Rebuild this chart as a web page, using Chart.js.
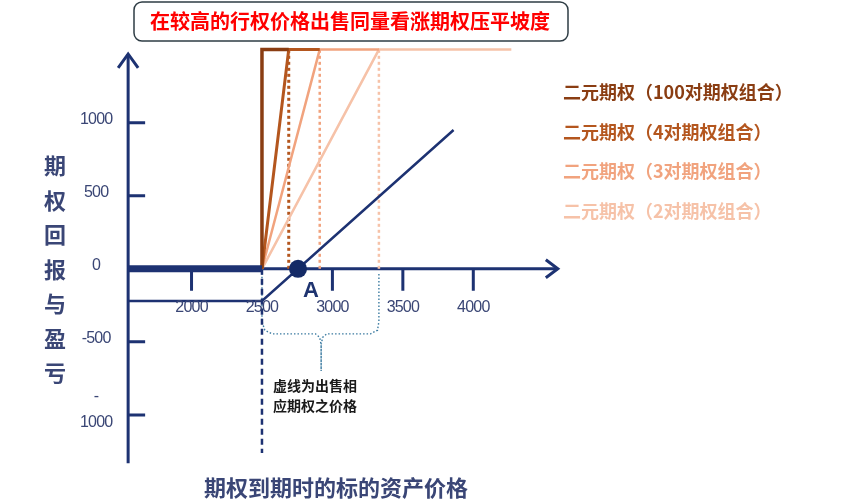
<!DOCTYPE html>
<html>
<head>
<meta charset="utf-8">
<script src="https://cdn.jsdelivr.net/npm/chart.js@4.4.1/dist/chart.umd.min.js"></script>
<style>
    html, body { margin: 0; padding: 0; background: #ffffff; }
    #wrap { width: 867px; height: 504px; position: relative; }
</style>
</head>
<body>
<div id="wrap"><canvas id="payoffChart" width="867" height="504"></canvas></div>
<script>
// axis ticks
const xTickValues = [2000, 2500, 3000, 3500, 4000];
const yTickValues = [1000, 500, 0, -500, -1000];
const yTickLabels = ["1000", "500", "0", "-500", "- 1000"];

// binary option payoffs (n pairs of call spreads)
const pair100X = [2500, 2500, 2690];
const pair100Y = [0, 1500, 1500];
const pair4X = [2500, 2690, 2910];
const pair4Y = [0, 1500, 1500];
const pair3X = [2500, 2910, 3330];
const pair3Y = [0, 1500, 1500];
const pair2X = [2500, 3330, 4270];
const pair2Y = [0, 1500, 1500];
const binaryBaseX = [1550, 2500];
const binaryBaseY = [0, 0];

// strikes of the calls that are sold
const soldStrikeX = [2690, 2910, 3330];
const soldStrikeTop = 1500;

// long call
const callX = [1550, 2500, 3860];
const callY = [-220, -220, 950];
const breakEvenX = [2756];
const breakEvenY = [0];

// brace under the axis
const braceX = [2500, 2500, 2520, 2570, 2880, 2910, 2920, 2920, 2920, 2930, 2960, 3270, 3320, 3330, 3330];
const braceY = [-30, -360, -420, -445, -445, -470, -520, -700, -520, -470, -445, -445, -420, -360, -30];
const strikeDashX = [2500, 2500];
const strikeDashY = [0, -1260];

const legendLabels = [
    "二元期权（100对期权组合）",
    "二元期权（4对期权组合）",
    "二元期权（3对期权组合）",
    "二元期权（2对期权组合）"
];
const seriesColors = ["#8a3d12", "#b4561e", "#f1a37e", "#f6c2a8"];

const NAVY = "#1d3272";
const LABEL = "#3e4a7a";

function toPoints(xs, ys) {
    return xs.map((x, i) => ({ x: x, y: ys[i] }));
}

function lineSet(xs, ys, color, width, order, dash) {
    return {
        data: toPoints(xs, ys),
        showLine: true,
        borderColor: color,
        backgroundColor: color,
        borderWidth: width,
        borderDash: dash || [],
        pointRadius: 0,
        tension: 0,
        order: order
    };
}

const datasets = [];
// dotted strike lines first (drawn under)
soldStrikeX.forEach((sx, i) => {
    datasets.push(lineSet([sx, sx], [0, soldStrikeTop], seriesColors[i + 1], i === 0 ? 3 : 2.5, 20 + i, [3, 3]));
});
datasets.push(lineSet(braceX, braceY, "#3a7aa0", 1.4, 19, [1.5, 2]));
datasets.push(lineSet(strikeDashX, strikeDashY, NAVY, 2.5, 18, [6, 4]));
datasets.push(lineSet(pair2X, pair2Y, seriesColors[3], 2.5, 14));
datasets.push(lineSet(pair3X, pair3Y, seriesColors[2], 2.5, 13));
datasets.push(lineSet(pair4X, pair4Y, seriesColors[1], 3, 12));
datasets.push(lineSet(pair100X, pair100Y, seriesColors[0], 3.5, 11));
datasets.push(lineSet(callX, callY, NAVY, 2.5, 10));
datasets.push(lineSet(binaryBaseX, binaryBaseY, NAVY, 7, 9));
datasets.push({
    data: toPoints(breakEvenX, breakEvenY),
    showLine: false,
    pointRadius: 9,
    pointBackgroundColor: "#142a66",
    pointBorderWidth: 0,
    order: 1
});

const axesPlugin = {
    id: "axesPlugin",
    beforeDatasetsDraw(chart) {
        const ctx = chart.ctx;
        const xs = chart.scales.x;
        const ys = chart.scales.y;
        const ax = xs.getPixelForValue(1550);
        const ay = ys.getPixelForValue(0);
        const yTop = ys.getPixelForValue(1470);
        const yBot = ys.getPixelForValue(-1330);
        const xEnd = xs.getPixelForValue(4600);

        ctx.save();
        ctx.strokeStyle = NAVY;
        ctx.lineWidth = 3;
        ctx.lineCap = "butt";
        ctx.beginPath();
        ctx.moveTo(ax, yBot);
        ctx.lineTo(ax, yTop);
        ctx.moveTo(ax, ay);
        ctx.lineTo(xEnd, ay);
        ctx.stroke();

        // arrow heads
        ctx.lineWidth = 3;
        ctx.beginPath();
        ctx.moveTo(ax - 10, yTop + 14);
        ctx.lineTo(ax, yTop);
        ctx.lineTo(ax + 10, yTop + 14);
        ctx.moveTo(xEnd - 12, ay - 9);
        ctx.lineTo(xEnd, ay);
        ctx.lineTo(xEnd - 12, ay + 9);
        ctx.stroke();

        // tick marks
        ctx.lineWidth = 3;
        ctx.beginPath();
        yTickValues.forEach(v => {
            if (v === 0) return;
            const py = ys.getPixelForValue(v);
            ctx.moveTo(ax, py);
            ctx.lineTo(ax + 17, py);
        });
        xTickValues.forEach(v => {
            if (v === 2500) return;
            const px = xs.getPixelForValue(v);
            ctx.moveTo(px, ay);
            ctx.lineTo(px, ay + 22);
        });
        ctx.stroke();
        ctx.restore();
    },
    afterDatasetsDraw(chart) {
        const ctx = chart.ctx;
        const xs = chart.scales.x;
        const ys = chart.scales.y;
        const ax = xs.getPixelForValue(1550);
        const ay = ys.getPixelForValue(0);

        ctx.save();
        // tick labels
        ctx.fillStyle = "#3a4675";
        ctx.font = "16px 'Liberation Sans', Arial, sans-serif";
        ctx.letterSpacing = "-0.8px";
        ctx.textAlign = "center";
        ctx.textBaseline = "middle";
        yTickValues.forEach((v, i) => {
            const py = ys.getPixelForValue(v);
            const parts = yTickLabels[i].split(" ");
            if (parts.length > 1) {
                ctx.fillText(parts[0], ax - 32, py - 18);
                ctx.fillText(parts[1], ax - 32, py + 8);
            } else {
                ctx.fillText(parts[0], ax - 32, py - 3);
            }
        });
        xTickValues.forEach(v => {
            ctx.fillText(String(v), xs.getPixelForValue(v), ay + 39);
        });
        ctx.letterSpacing = "0px";

        // axis titles
        ctx.font = "bold 22px 'Noto Sans CJK SC', sans-serif";
        ctx.fillStyle = "#3a4676";
        const yTitle = "期权回报与盈亏";
        for (let i = 0; i < yTitle.length; i++) {
            ctx.fillText(yTitle[i], 55, 166 + i * 34.5);
        }
        ctx.fillText("期权到期时的标的资产价格", 336, 488);

        // point A label
        ctx.font = "bold 22px 'Liberation Sans', Arial, sans-serif";
        ctx.fillStyle = "#1f3470";
        ctx.fillText("A", xs.getPixelForValue(breakEvenX[0]) + 13, ay + 22);

        // note under the brace
        ctx.font = "bold 14px 'Noto Sans CJK SC', sans-serif";
        ctx.fillStyle = "#1a1a1a";
        ctx.textAlign = "left";
        const noteX = xs.getPixelForValue(2500) + 11;
        ctx.fillText("虚线为出售相", noteX, 386);
        ctx.fillText("应期权之价格", noteX, 406);

        // legend
        ctx.font = "bold 18px 'Noto Sans CJK SC', sans-serif";
        legendLabels.forEach((label, i) => {
            ctx.fillStyle = seriesColors[i];
            ctx.fillText(label, 563, 92 + i * 39.7);
        });

        // title box
        ctx.fillStyle = "#ffffff";
        ctx.strokeStyle = "#2e3c44";
        ctx.lineWidth = 1.5;
        ctx.beginPath();
        ctx.roundRect(134, 2, 434, 39, 8);
        ctx.fill();
        ctx.stroke();
        ctx.fillStyle = "#ff0000";
        ctx.font = "bold 20px 'Noto Sans CJK SC', sans-serif";
        ctx.textAlign = "center";
        ctx.fillText("在较高的行权价格出售同量看涨期权压平坡度", 350, 21);
        ctx.restore();
    }
};

new Chart(document.getElementById("payoffChart"), {
    type: "scatter",
    data: { datasets: datasets },
    options: {
        responsive: false,
        animation: false,
        devicePixelRatio: 1,
        layout: { padding: { left: 107, right: 281, top: 35, bottom: 16 } },
        plugins: {
            legend: { display: false },
            tooltip: { enabled: false }
        },
        scales: {
            x: { type: "linear", min: 1400, max: 4800, display: false },
            y: { type: "linear", min: -1500, max: 1600, display: false }
        }
    },
    plugins: [axesPlugin]
});
</script>
</body>
</html>
